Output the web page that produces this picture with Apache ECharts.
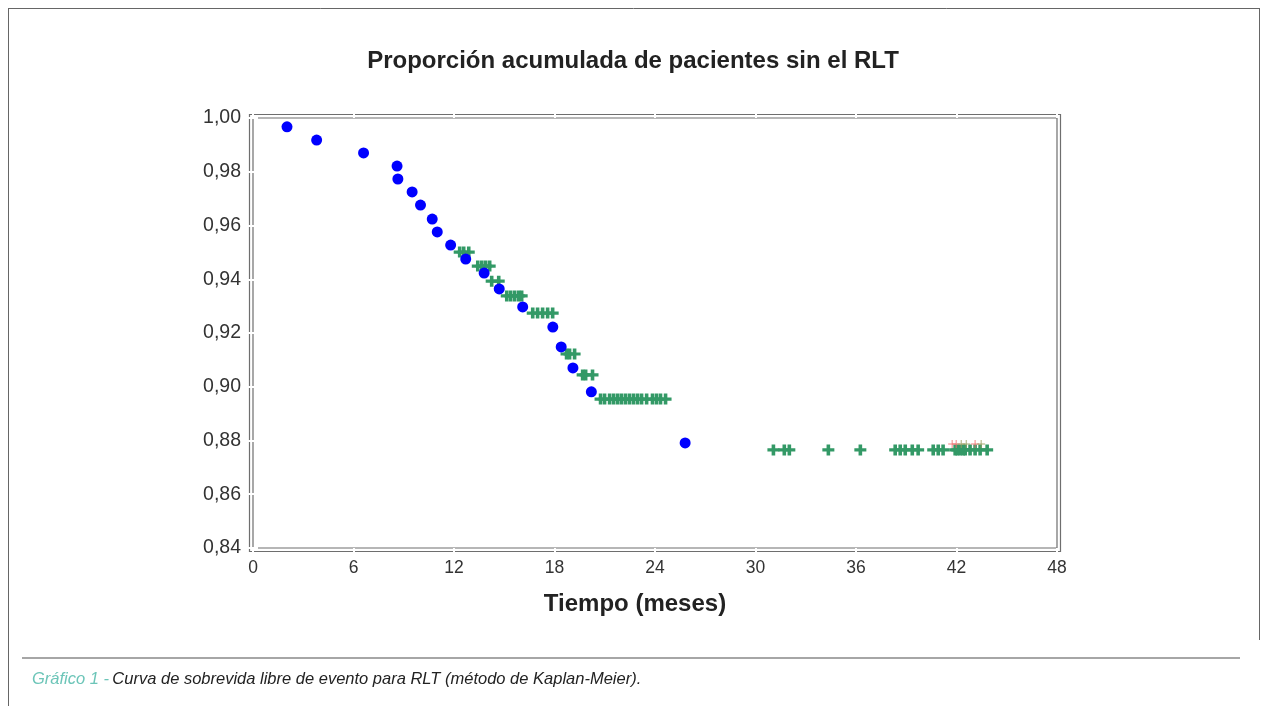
<!DOCTYPE html>
<html>
<head>
<meta charset="utf-8">
<script src="https://cdn.jsdelivr.net/npm/echarts@6/dist/echarts.min.js"></script>
<style>
html,body{margin:0;padding:0;background:#fff;}
#chart{width:1266px;height:706px;}
</style>
</head>
<body>
<div id="chart"></div>
<script>
// ---- data ----
const titleText = 'Proporción acumulada de pacientes sin el RLT';
const xAxisName = 'Tiempo (meses)';
const captionLead = 'Gráfico 1 -';
const captionText = 'Curva de sobrevida libre de evento para RLT (método de Kaplan-Meier).';

const xTicks = [0, 6, 12, 18, 24, 30, 36, 42, 48];
const yTicks = [0.84, 0.86, 0.88, 0.90, 0.92, 0.94, 0.96, 0.98, 1.00];

// events (blue dots)
const eventTimes = [2.03, 3.8, 6.6, 8.6, 8.65, 9.5, 10.0, 10.7, 11.0, 11.8, 12.7, 13.8, 14.7, 16.1, 17.9, 18.4, 19.1, 20.2, 25.8];
const eventSurvival = [0.9967, 0.9918, 0.9870, 0.9821, 0.9773, 0.9725, 0.9676, 0.9624, 0.9576, 0.9527, 0.9475, 0.9423, 0.9364, 0.9297, 0.9222, 0.9148, 0.9070, 0.8981, 0.8791];

// censored observations (green crosses), one level per row
const censoredLevels = [0.9501, 0.9449, 0.9393, 0.9338, 0.9274, 0.9122, 0.9044, 0.8954, 0.8765];
const censoredTimes = [
  [12.34, 12.58, 12.88],
  [13.42, 13.66, 13.89, 14.13],
  [14.25, 14.67],
  [15.15, 15.38, 15.62, 15.86, 16.04],
  [16.70, 16.99, 17.29, 17.59, 17.89],
  [18.72, 18.90, 19.20],
  [19.68, 19.86, 20.27],
  [20.75, 20.99, 21.29, 21.53, 21.77, 22.00, 22.24, 22.48, 22.72, 22.96, 23.20, 23.50, 23.85, 24.09, 24.33, 24.63],
  [31.07, 31.72, 32.02, 34.35, 36.26, 38.34, 38.64, 38.94, 39.36, 39.71, 40.61, 40.91, 41.20, 41.92, 42.05, 42.22, 42.40, 42.52, 42.81, 43.11, 43.41, 43.83]
];

// faint overlaid marks near the end
const faintLevel = 0.8787;
const faintRedTimes = [41.74, 41.98, 43.11];
const faintOliveTimes = [42.28, 42.58, 43.47];

// ---- build ----
const eventData = eventTimes.map((t, i) => [t, eventSurvival[i]]);
const censoredData = [];
censoredTimes.forEach((row, r) => row.forEach(t => censoredData.push([t, censoredLevels[r]])));
const faintRedData = faintRedTimes.map(t => [t, faintLevel]);
const faintOliveData = faintOliveTimes.map(t => [t, faintLevel]);

const crossPath = 'path://M4.2,0H7.8V4.3H12V7.7H7.8V12H4.2V7.7H0V4.3H4.2Z';
const thinCross = 'path://M4.4,0H5.6V4.4H10V5.6H5.6V10H4.4V5.6H0V4.4H4.4Z';
const fmtY = v => v.toFixed(2).replace('.', ',');

const G = {left: 253, top: 118, right: 209, bottom: 158};
const W = 1266, H = 706;

const chart = echarts.init(document.getElementById('chart'), null, {renderer: 'canvas'});

const whiteTick = {show: true, inside: false, length: 5, lineStyle: {color: '#ffffff', width: 2}};

chart.setOption({
  backgroundColor: '#ffffff',
  animation: false,
  title: {
    text: titleText,
    left: 'center',
    top: 44,
    textStyle: {fontFamily: 'Liberation Sans', fontWeight: 'bold', fontSize: 24, color: '#222'}
  },
  grid: {
    left: G.left, top: G.top, right: G.right, bottom: G.bottom,
    show: true, borderColor: '#6e6e6e', borderWidth: 1.2, backgroundColor: 'transparent'
  },
  xAxis: [{
    type: 'value', min: 0, max: 48, interval: 6, position: 'bottom', z: 5,
    axisLine: {show: false}, splitLine: {show: false},
    axisTick: whiteTick,
    axisLabel: {margin: 11, fontFamily: 'Liberation Sans Narrow, Liberation Sans', fontSize: 17.5, color: '#333'}
  }, {
    type: 'value', min: 0, max: 48, interval: 6, position: 'top', z: 5,
    axisLine: {show: false}, splitLine: {show: false},
    axisTick: whiteTick, axisLabel: {show: false}
  }],
  yAxis: [{
    type: 'value', min: 0.84, max: 1.00, interval: 0.02, position: 'left', z: 5,
    axisLine: {show: false}, splitLine: {show: false},
    axisTick: whiteTick,
    axisLabel: {margin: 12, formatter: fmtY, fontFamily: 'Liberation Sans', fontSize: 19.5, color: '#333'}
  }, {
    type: 'value', min: 0.84, max: 1.00, interval: 0.02, position: 'right', z: 5,
    axisLine: {show: false}, splitLine: {show: false},
    axisTick: whiteTick, axisLabel: {show: false}
  }],
  series: [{
    type: 'scatter', data: censoredData, symbol: crossPath, symbolSize: [12, 11],
    itemStyle: {color: '#339966', opacity: 1}, z: 3, silent: true
  }, {
    type: 'scatter', data: faintRedData, symbol: thinCross, symbolSize: 8,
    itemStyle: {color: '#f07070', opacity: 0.9}, z: 4, silent: true
  }, {
    type: 'scatter', data: faintOliveData, symbol: thinCross, symbolSize: 8,
    itemStyle: {color: '#9aa060', opacity: 0.9}, z: 4, silent: true
  }, {
    type: 'scatter', data: eventData, symbol: 'circle', symbolSize: 11,
    itemStyle: {color: '#0000ff', opacity: 1}, z: 6, silent: true
  }],
  graphic: {elements: [
    {type: 'rect', z: -10, silent: true,
     shape: {x: G.left - 3.5, y: G.top - 3.5, width: W - G.left - G.right + 7, height: H - G.top - G.bottom + 7},
     style: {fill: 'none', stroke: '#6e6e6e', lineWidth: 1.2}},
    {type: 'text', x: 635, y: 604, silent: true,
     style: {text: xAxisName, fontFamily: 'Liberation Sans', fontWeight: 'bold', fontSize: 24, fill: '#222', textAlign: 'center', textVerticalAlign: 'middle'}},
    {type: 'line', silent: true, shape: {x1: 8.5, y1: 8, x2: 8.5, y2: 706}, style: {stroke: '#666', lineWidth: 1}},
    {type: 'line', silent: true, shape: {x1: 8, y1: 8.5, x2: 1259, y2: 8.5}, style: {stroke: '#666', lineWidth: 1}},
    {type: 'line', silent: true, shape: {x1: 1259.5, y1: 8, x2: 1259.5, y2: 640}, style: {stroke: '#666', lineWidth: 1}},
    {type: 'line', silent: true, shape: {x1: 22, y1: 658, x2: 1240, y2: 658}, style: {stroke: '#888', lineWidth: 1.5}},
    {type: 'text', x: 32, y: 679, silent: true,
     style: {
       text: '{a|' + captionLead + '} {b|' + captionText + '}',
       textVerticalAlign: 'middle',
       rich: {
         a: {fontFamily: 'Liberation Sans', fontStyle: 'italic', fontSize: 16.5, fill: '#6cc5b8', color: '#6cc5b8'},
         b: {fontFamily: 'Liberation Sans', fontStyle: 'italic', fontSize: 16.5, fill: '#222', color: '#222'}
       }
     }}
  ]}
});
</script>
</body>
</html>
